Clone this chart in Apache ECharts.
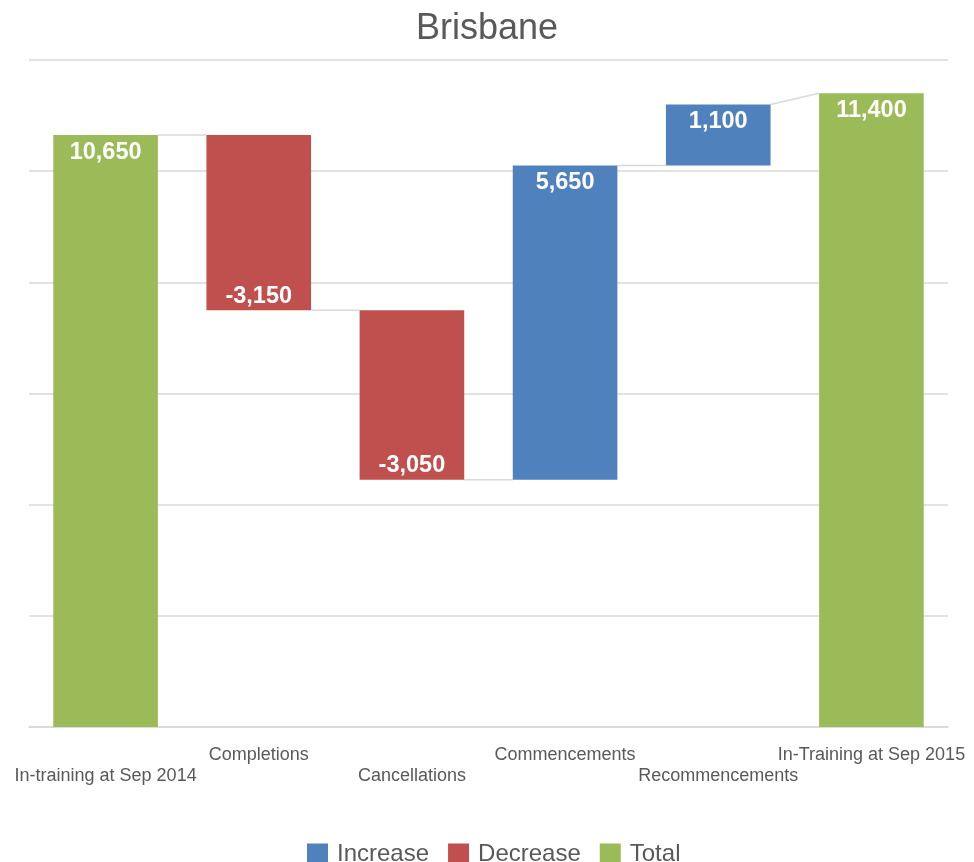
<!DOCTYPE html>
<html>
<head>
<meta charset="utf-8">
<script src="https://cdn.jsdelivr.net/npm/echarts@6/dist/echarts.min.js"></script>
<style>html,body{margin:0;padding:0;background:#fff;}#c{width:974px;height:862px;}</style>
</head>
<body>
<div id="c"></div>
<script>
const categories = ['In-training at Sep 2014','Completions','Cancellations','Commencements','Recommencements','In-Training at Sep 2015'];
const changes = [10650, -3150, -3050, 5650, 1100, 11400];
const isTotal = [true, false, false, false, false, true];
const yTicks = [0, 2000, 4000, 6000, 8000, 10000, 12000];

const FONT = '"Liberation Sans", Arial, sans-serif';
const C_INC = '#4f81bd', C_DEC = '#c0504d', C_TOT = '#9bbb59';

// derive stacked pieces
const base = [], inc = [], dec = [], tot = [], ends = [];
let cum = 0;
changes.forEach((v, i) => {
  if (isTotal[i]) {
    base.push(0); inc.push('-'); dec.push('-'); tot.push(v); cum = v;
  } else if (v >= 0) {
    base.push(cum); inc.push(v); dec.push('-'); tot.push('-'); cum += v;
  } else {
    base.push(cum + v); inc.push('-'); dec.push(-v); tot.push('-'); cum += v;
  }
  ends.push(cum);
});
const connectors = [];
for (let i = 0; i < changes.length - 1; i++) {
  const to = isTotal[i + 1] ? changes[i + 1] : ends[i];
  connectors.push([i, ends[i], to]);
}
const fmt = n => n.toLocaleString('en-US');
const BAR_RATIO = 0.683;
const LBL = {color: '#fff', fontWeight: 'bold', fontSize: 23.5, fontFamily: FONT};

const chart = echarts.init(document.getElementById('c'), null, {renderer: 'canvas'});
chart.setOption({
  animation: false,
  textStyle: {fontFamily: FONT},
  title: {
    text: 'Brisbane', left: 'center', top: 6,
    textStyle: {fontFamily: FONT, fontSize: 36, fontWeight: 'normal', color: '#595959'}
  },
  legend: {
    data: ['Increase', 'Decrease', 'Total'],
    left: 302, top: 837,
    icon: 'rect', itemWidth: 21, itemHeight: 21, itemGap: 19,
    textStyle: {fontFamily: FONT, fontSize: 24, color: '#595959', padding: [0, 0, 0, 4]}
  },
  grid: {left: 29, right: 26, top: 60, bottom: 135, containLabel: false},
  xAxis: {
    type: 'category', data: categories,
    axisTick: {show: false},
    axisLine: {lineStyle: {color: '#d9d9d9', width: 1.5}},
    axisLabel: {
      interval: 0, margin: 18, fontFamily: FONT, fontSize: 18, color: '#595959', lineHeight: 21,
      formatter: (v, i) => (i % 2 === 0 ? '\n' + v : v)
    }
  },
  yAxis: {
    type: 'value', min: yTicks[0], max: yTicks[yTicks.length - 1], interval: yTicks[1] - yTicks[0],
    axisLabel: {show: false}, axisLine: {show: false}, axisTick: {show: false},
    splitLine: {lineStyle: {color: '#d9d9d9', width: 1.5}}
  },
  series: [
    {name: 'base', type: 'bar', stack: 'w', data: base, barWidth: (BAR_RATIO * 100) + '%',
     itemStyle: {color: 'transparent'}, silent: true},
    {name: 'Increase', type: 'bar', stack: 'w', data: inc, itemStyle: {color: C_INC},
     label: Object.assign({show: true, position: 'insideTop', distance: 5, formatter: p => fmt(p.value)}, LBL)},
    {name: 'Decrease', type: 'bar', stack: 'w', data: dec, itemStyle: {color: C_DEC},
     label: Object.assign({show: true, position: 'insideBottom', distance: 2, formatter: p => fmt(-p.value)}, LBL)},
    {name: 'Total', type: 'bar', stack: 'w', data: tot, itemStyle: {color: C_TOT},
     label: Object.assign({show: true, position: 'insideTop', distance: 5, formatter: p => fmt(p.value)}, LBL)},
    {name: 'connectors', type: 'custom', silent: true, z: 1,
     data: connectors,
     renderItem: (params, api) => {
       const i = api.value(0);
       const p1 = api.coord([i, api.value(1)]);
       const p2 = api.coord([i + 1, api.value(2)]);
       const half = api.size([1, 0])[0] * BAR_RATIO / 2;
       return {type: 'line', shape: {x1: p1[0] + half, y1: p1[1], x2: p2[0] - half, y2: p2[1]},
               style: {stroke: '#d9d9d9', lineWidth: 1.5}};
     }}
  ]
});
</script>
</body>
</html>
